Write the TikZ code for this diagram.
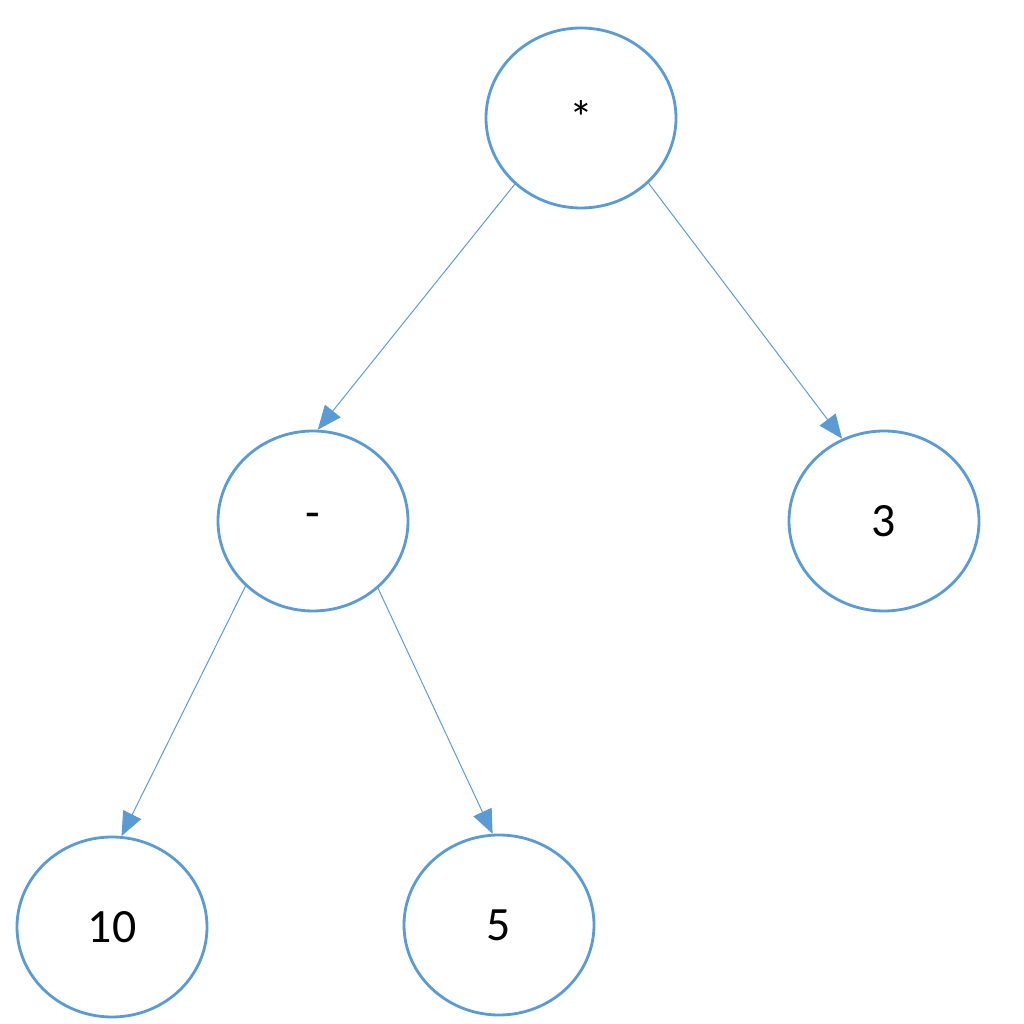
\documentclass[tikz,border=0pt]{standalone}
\usepackage{fontspec}
\setmainfont{Carlito}
\usetikzlibrary{shapes.geometric,arrows.meta}
\definecolor{lb}{HTML}{5B9BD5}
\begin{document}
\begin{tikzpicture}[
  tn/.style={ellipse,draw=lb,line width=2pt,minimum width=4.75cm,minimum height=4.5cm,inner sep=0pt,font=\fontsize{34}{40}\selectfont},
  ed/.style={draw=lb,line width=0.7pt,-{Triangle[length=0.6cm,width=0.5cm]}}]
\useasboundingbox (0,0) rectangle (25.6,25.6);
\node[tn] (star) at (14.525,22.65) {*};
\node[tn] (minus) at (7.825,12.575) {-};
\node[tn] (three) at (22.1,12.575) {3};
\node[tn] (ten) at (2.8,2.425) {10};
\node[tn] (five) at (12.475,2.475) {5};
\draw[ed] (star.225) -- (minus.87);
\draw[ed] (star.316) -- (three.117);
\draw[ed] (minus.224) -- (ten.84);
\draw[ed] (minus.314) -- (five.94);
\end{tikzpicture}
\end{document}
